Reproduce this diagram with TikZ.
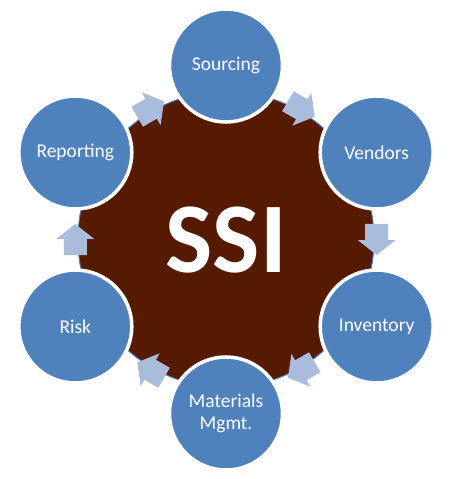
\documentclass[tikz,border=0pt]{standalone}
\usepackage{fontspec}
\setmainfont{Carlito}
\usetikzlibrary{shadows}
\definecolor{satblue}{HTML}{4F81BD}
\definecolor{hubbrown}{HTML}{561A00}
\definecolor{arrowblue}{HTML}{A9BCDB}
\tikzset{
  hub/.style={circle, fill=hubbrown, draw=satblue, line width=1pt, minimum size=296pt, inner sep=0pt},
  sat/.style={circle, fill=satblue, draw=white, line width=3.5pt, minimum size=113pt, inner sep=0pt,
    text=white, font=\fontsize{19.5}{22}\selectfont, align=center,
    drop shadow={opacity=0.25, shadow xshift=0.8pt, shadow yshift=-0.8pt}},
  flowarrow/.style={fill=arrowblue},
  hubtext/.style={text=white, font=\fontsize{100}{100}\selectfont\bfseries}
}
\begin{document}
\begin{tikzpicture}[x=1pt,y=1pt]
\useasboundingbox (-226,-239.5) rectangle (224,239.5);
\node[hub] (hub) at (0,0) {};
\node[hubtext] (ssi) at (0,-1) {SSI};
\foreach \a in {60,0,-60,-120,180,120}{
  \fill[flowarrow, shift={(\a:150.7)}, rotate=\a-90]
    (-15.5,-11.5) -- (0.5,-11.5) -- (0.5,-19) -- (15.5,0) -- (0.5,19) -- (0.5,11.5) -- (-15.5,11.5) -- cycle;
}
\node[sat] (sourcing) at (90:174) {Sourcing};
\node[sat] (vendors) at (30:174) {Vendors};
\node[sat] (inventory) at (-30:174) {Inventory};
\node[sat] (materials) at (-90:174) {Materials\\Mgmt.};
\node[sat] (risk) at (-150:174) {Risk};
\node[sat] (reporting) at (150:174) {Reporting};
\end{tikzpicture}
\end{document}
